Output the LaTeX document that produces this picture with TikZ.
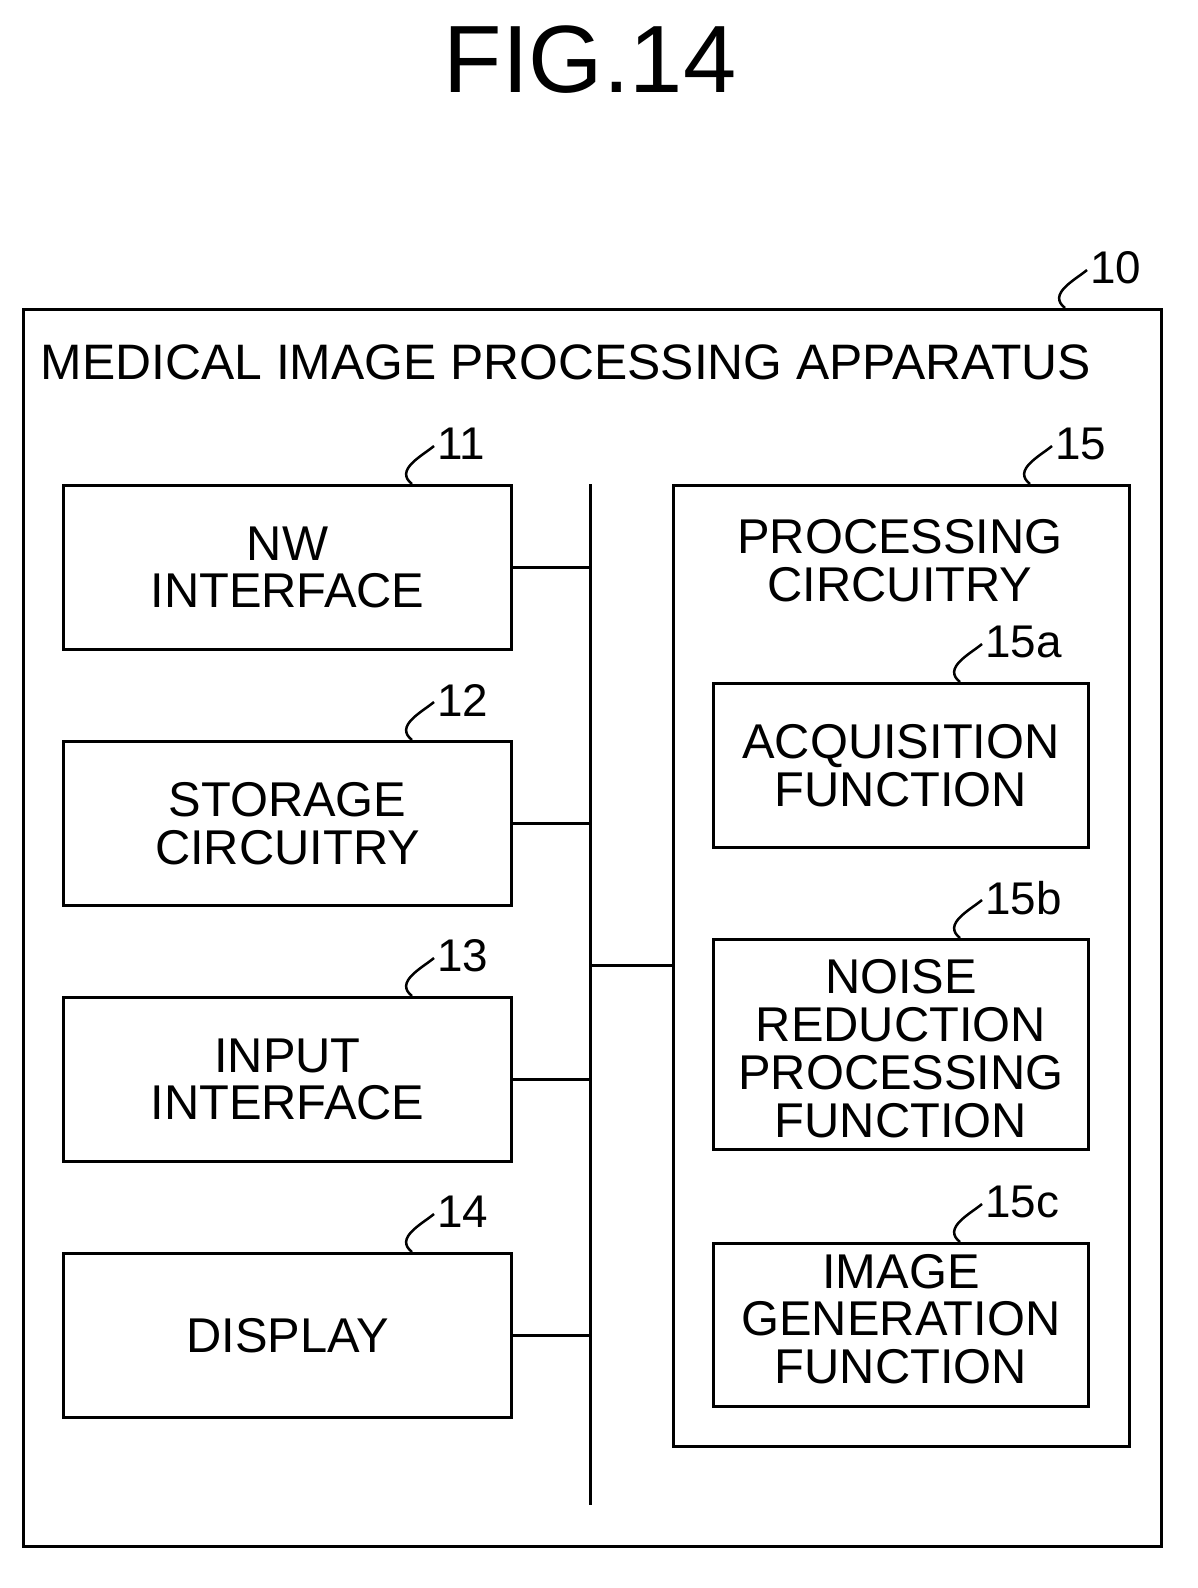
\documentclass[tikz,border=0pt]{standalone}
\usepackage{fontspec}
\setmainfont{Liberation Sans}
\usetikzlibrary{positioning,calc}
\begin{document}
\begin{tikzpicture}[
    x=1bp, y=-1bp,
    line width=3bp,
    font=\fontsize{49}{48}\selectfont,
    every node/.style={align=center},
    block/.style={draw, anchor=north west, inner sep=0pt},
    lead/.style={line width=2.5bp},
    refnum/.style={anchor=west, inner sep=2pt, font=\fontsize{46}{46}\selectfont}
]
    \useasboundingbox (0,0) rectangle (1197,1588);
    \newcommand{\refmark}[3]{%
        \draw[lead] (#1) .. controls +(-18,-14) and +(-12,10) .. ($(#1)+(22,-38)$) coordinate (#2-tip);
        \node[refnum] at ($(#2-tip)+(0,-2)$) {#3};}

    % Title
    \node[font=\fontsize{96}{96}\selectfont] (title) at (590,60) {FIG.14};

    % Apparatus
    \node[block, minimum width=1138bp, minimum height=1237bp] (app) at (22,308) {};
    \node[anchor=west, font=\fontsize{50}{50}\selectfont] (apptext) at (36,362) {MEDICAL IMAGE PROCESSING APPARATUS};
    \coordinate (app-m) at (1065,308);
    \refmark{app-m}{app}{10}

    % Left blocks
    \node[block, minimum width=448bp, minimum height=164bp] (nw) at (62,484) {};
    \node at (nw.center) {NW\\INTERFACE};
    \node[block, minimum width=448bp, minimum height=164bp] (stor) at (62,740) {};
    \node at (stor.center) {STORAGE\\CIRCUITRY};
    \node[block, minimum width=448bp, minimum height=164bp] (inp) at (62,996) {};
    \node at (inp.center) {INPUT\\INTERFACE};
    \node[block, minimum width=448bp, minimum height=164bp] (disp) at (62,1252) {};
    \node at (disp.center) {DISPLAY};
    \coordinate (nw-m) at (412,484);   \refmark{nw-m}{nw}{11}
    \coordinate (stor-m) at (412,740); \refmark{stor-m}{stor}{12}
    \coordinate (inp-m) at (412,996);  \refmark{inp-m}{inp}{13}
    \coordinate (disp-m) at (412,1252);\refmark{disp-m}{disp}{14}

    % Processing circuitry
    \node[block, minimum width=456bp, minimum height=961bp] (proc) at (672,484) {};
    \node (proctext) at (900,561) {PROCESSING\\CIRCUITRY};
    \coordinate (proc-m) at (1030,484); \refmark{proc-m}{proc}{15}

    \node[block, minimum width=375bp, minimum height=164bp] (acq) at (712,682) {};
    \node at (acq.center) {ACQUISITION\\FUNCTION};
    \node[block, minimum width=375bp, minimum height=210bp] (noise) at (712,938) {};
    \node at ($(noise.center)+(0,4)$) {NOISE\\REDUCTION\\PROCESSING\\FUNCTION};
    \node[block, minimum width=375bp, minimum height=163bp] (imgen) at (712,1242) {};
    \node at ($(imgen.center)+(0,-6)$) {IMAGE\\GENERATION\\FUNCTION};
    \coordinate (acq-m) at (960,682);    \refmark{acq-m}{acq}{15a}
    \coordinate (noise-m) at (960,938);  \refmark{noise-m}{noise}{15b}
    \coordinate (imgen-m) at (960,1242); \refmark{imgen-m}{imgen}{15c}

    % Bus
    \coordinate (bus-top) at (590,484);
    \coordinate (bus-bot) at (590,1505);
    \draw (bus-top) -- (bus-bot);
    \foreach \n in {nw,stor,inp,disp}
        \draw (\n.east) -- (\n.east -| bus-top);
    \draw (proc.west |- 0,965) -- (bus-top |- 0,965);
\end{tikzpicture}
\end{document}
